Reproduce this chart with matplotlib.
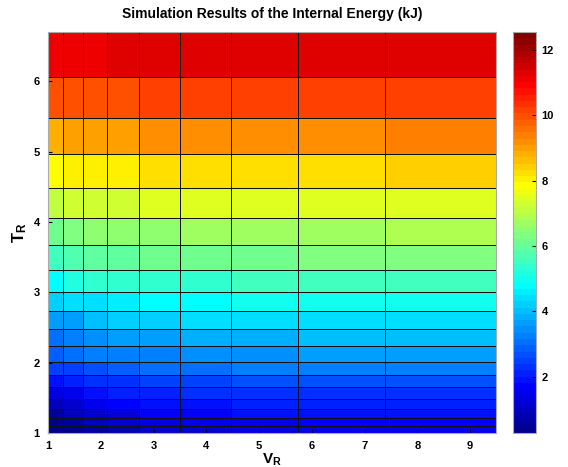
import matplotlib
matplotlib.use("Agg")
import matplotlib.pyplot as plt
from matplotlib.colors import ListedColormap
import numpy as np

plt.rcParams["font.family"] = ["Liberation Sans", "DejaVu Sans"]
plt.rcParams["font.weight"] = "bold"
plt.rcParams["mathtext.fontset"] = "custom"
plt.rcParams["mathtext.rm"] = "Liberation Sans:bold"
plt.rcParams["mathtext.bf"] = "Liberation Sans:bold"
plt.rcParams["mathtext.it"] = "Liberation Sans:bold"

# grid vertices (reduced volume / reduced temperature)
v_edges = [1.0, 1.279, 1.658, 2.118, 2.72, 3.497, 4.475, 5.745, 7.394, 9.49]
t_edges = [1.0, 1.0995, 1.219, 1.347, 1.489, 1.650, 1.830, 2.014, 2.233, 2.474,
           2.730, 3.010, 3.323, 3.678, 4.062, 4.489, 4.962, 5.484, 6.067, 6.701]

# internal energy (kJ) per cell, rows from T_R = 1 upward
row01 = [0.30, 0.40, 0.60, 0.80, 1.04, 1.13, 1.33, 1.44, 1.52]
row02 = [0.45, 0.60, 0.94, 1.13, 1.33, 1.52, 1.61, 1.71, 1.71]
row03 = [0.56, 0.85, 1.13, 1.40, 1.65, 1.71, 1.81, 1.90, 1.96]
row04 = [0.88, 1.13, 1.52, 1.71, 1.81, 1.90, 2.00, 2.09, 2.09]
row05 = [1.33, 1.52, 1.81, 2.00, 2.09, 2.19, 2.29, 2.29, 2.38]
row06 = [1.90, 2.09, 2.29, 2.38, 2.48, 2.57, 2.67, 2.67, 2.76]
row07 = [2.48, 2.57, 2.76, 2.86, 2.96, 3.05, 3.15, 3.24, 3.24]
row08 = [2.86, 2.96, 3.15, 3.24, 3.34, 3.44, 3.53, 3.63, 3.63]
row09 = [3.05, 3.24, 3.44, 3.59, 3.72, 3.76, 3.82, 3.92, 3.95]
row10 = [3.55, 3.72, 3.95, 4.11, 4.20, 4.30, 4.36, 4.36, 4.40]
row11 = [4.17, 4.30, 4.49, 4.59, 4.78, 4.78, 4.97, 4.97, 4.97]
row12 = [4.78, 5.16, 5.26, 5.36, 5.45, 5.45, 5.55, 5.55, 5.64]
row13 = [5.64, 5.74, 5.84, 5.93, 6.05, 6.08, 6.12, 6.22, 6.31]
row14 = [6.05, 6.31, 6.41, 6.51, 6.60, 6.70, 6.70, 6.79, 6.89]
row15 = [7.08, 7.22, 7.22, 7.27, 7.43, 7.43, 7.47, 7.47, 7.47]
row16 = [7.85, 7.98, 7.98, 8.10, 8.20, 8.20, 8.20, 8.20, 8.39]
row17 = [8.87, 9.00, 9.00, 9.08, 9.23, 9.23, 9.23, 9.23, 9.29]
row18 = [9.94, 9.94, 9.94, 10.04, 10.09, 10.09, 10.15, 10.15, 10.15]
row19 = [11.11, 11.11, 11.11, 11.26, 11.30, 11.30, 11.30, 11.30, 11.30]

c_min, c_max = 0.27, 12.55
x_ticks = [1, 2, 3, 4, 5, 6, 7, 8, 9]
y_ticks = [1, 2, 3, 4, 5, 6]
cb_ticks = [2, 4, 6, 8, 10, 12]

energy = np.array([row01, row02, row03, row04, row05, row06, row07, row08, row09, row10,
                   row11, row12, row13, row14, row15, row16, row17, row18, row19])


def matlab_jet(m=64):
    # same construction as MATLAB's jet(m)
    n = int(np.ceil(m / 4))
    u = np.concatenate([np.arange(1, n + 1) / n, np.ones(n - 1), np.arange(n, 0, -1) / n])
    g = int(np.ceil(n / 2)) - (1 if m % 4 == 1 else 0) + np.arange(1, len(u) + 1)
    r = g + n
    b = g - n
    J = np.zeros((m, 3))
    for ch, idx in ((0, r), (1, g), (2, b)):
        keep = (idx >= 1) & (idx <= m)
        J[idx[keep] - 1, ch] = u[keep]
    return ListedColormap(J)


fig = plt.figure(figsize=(5.68, 4.67), dpi=100)
ax = fig.add_axes([0.0845, 0.0728, 0.7887, 0.8587])
cax = fig.add_axes([0.9032, 0.0728, 0.0405, 0.8587])

mesh = ax.pcolormesh(v_edges, t_edges, energy, cmap=matlab_jet(64),
                     vmin=c_min, vmax=c_max, edgecolors="#111111", linewidth=0.4)
ax.set_xlim(v_edges[0], v_edges[-1])
ax.set_ylim(t_edges[0], t_edges[-1])
ax.set_xticks(x_ticks)
ax.set_yticks(y_ticks)
ax.tick_params(direction="in", length=3, labelsize=8, pad=6)
for s in ax.spines.values():
    s.set_color("#aaaaaa")
    s.set_linewidth(0.8)

ax.set_title("Simulation Results of the Internal Energy (kJ)", fontsize=10,
             fontweight="bold", pad=10)
ax.set_xlabel(r"$\mathrm{V_R}$", fontsize=11, labelpad=0)
ax.set_ylabel(r"$\mathrm{T_R}$", fontsize=12, labelpad=3)

cb = fig.colorbar(mesh, cax=cax, ticks=cb_ticks)
cb.ax.tick_params(direction="in", length=3, labelsize=8, pad=4)
cb.outline.set_edgecolor("#aaaaaa")

fig.savefig("out.png", dpi=100)
